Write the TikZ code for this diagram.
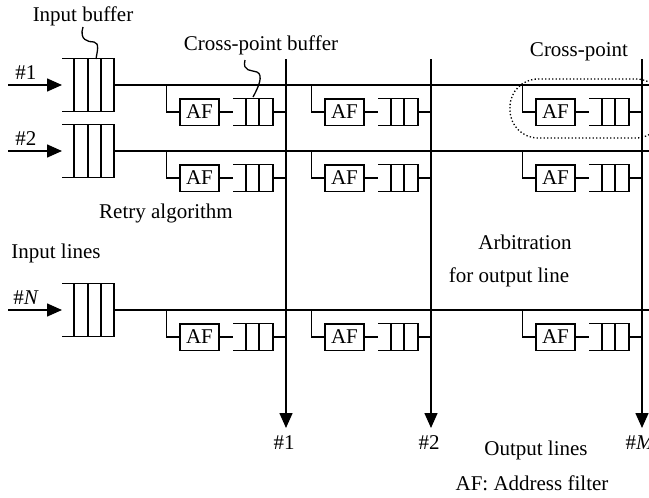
\documentclass[tikz,border=0pt]{standalone}
\usepackage{fontspec}
\setmainfont{Liberation Serif}
\usetikzlibrary{arrows.meta}
\begin{document}
\begin{tikzpicture}[x=1pt,y=-1pt,line width=1.5pt,
  lbl/.style={font=\fontsize{21}{25}\selectfont, inner sep=0pt},
  afbox/.style={draw, line width=1.5pt, minimum width=39pt, minimum height=26.5pt, inner sep=0pt, font=\fontsize{21}{25}\selectfont},
  arr/.style={-{Triangle[length=15pt,width=13pt]}},
  squig/.style={line width=1.3pt},
  cpzone/.style={line width=1.3pt, dash pattern=on 1.3pt off 2.2pt, rounded corners=28pt}]
\useasboundingbox (0,0) rectangle (649,498);
\clip (0,0) rectangle (649,498);
% input lines with input buffers
\foreach \r/\y/\t in {1/85/{\#1}, 2/151/{\#2}, N/310/{\#\textit{N}}}{
  \coordinate (in\r) at (8,\y);
  \coordinate (ib\r) at (62,\y);
  \coordinate (ibo\r) at (114,\y);
  \coordinate (re\r) at (660,\y);
  \draw[arr] (in\r) -- (ib\r);
  \node[lbl] (lab\r) at (26,{\y-12}) {\t};
  \draw (62,{\y-26.5}) -- (114,{\y-26.5}) -- (114,{\y+26.5}) -- (62,{\y+26.5});
  \foreach \vx in {74,88,101}{\draw (\vx,{\y-26.5}) -- (\vx,{\y+26.5});}
  \draw (ibo\r) -- (re\r);
}
% output lines and cross-points
\foreach \c/\x/\t in {1/286/{\#1}, 2/431/{\#2}, M/642/{\#\textit{M}}}{
  \coordinate (ot\c) at (\x,59);
  \coordinate (ob\c) at (\x,428);
  \draw[arr] (ot\c) -- (ob\c);
  \node[lbl] (olab\c) at ({\x-2},443) {\t};
  \foreach \r/\y in {1/85, 2/151, N/310}{
    \node[afbox] (af\r\c) at ({\x-86.5},{\y+27}) {AF};
    \coordinate (br\r\c) at ({\x-119.3},\y);
    \coordinate (cb\r\c) at ({\x-53},{\y+27});
    \coordinate (cbe\r\c) at ({\x-13},{\y+27});
    \coordinate (cx\r\c) at (\x,{\y+27});
    \draw (br\r\c) |- (af\r\c.west);
    \draw (af\r\c.east) -- (cb\r\c);
    \draw ({\x-53},{\y+13.5}) -- ({\x-13},{\y+13.5}) -- ({\x-13},{\y+40.5}) -- ({\x-53},{\y+40.5});
    \foreach \d in {40,27}{\draw ({\x-\d},{\y+13.5}) -- ({\x-\d},{\y+40.5});}
    \draw (cbe\r\c) -- (cx\r\c);
  }
}
% cross-point zone
\draw[cpzone] (510,79) rectangle (664,138);
% labels
\node[lbl] (tib) at (83,16) {Input buffer};
\node[lbl] (tcpb) at (261,45) {Cross-point buffer};
\node[lbl] (tcp) at (579,52) {Cross-point};
\node[lbl] (tretry) at (166,213) {Retry algorithm};
\node[lbl] (tinl) at (56,253) {Input lines};
\node[lbl] (tarb) at (525,242) {Arbitration};
\node[lbl] (tfor) at (509,277) {for output line};
\node[lbl] (toutl) at (536,450) {Output lines};
\node[lbl] (taf) at (532,483) {AF: Address filter};
% pointer squiggles
\draw[squig] (83,27) .. controls (79,40) and (88,42) .. (94,42) .. controls (100,43) and (97,52) .. (96,59);
\draw[squig] (245,60) .. controls (242,72) and (252,70) .. (257,72) .. controls (264,75) and (258,88) .. (253,97);
\end{tikzpicture}
\end{document}
